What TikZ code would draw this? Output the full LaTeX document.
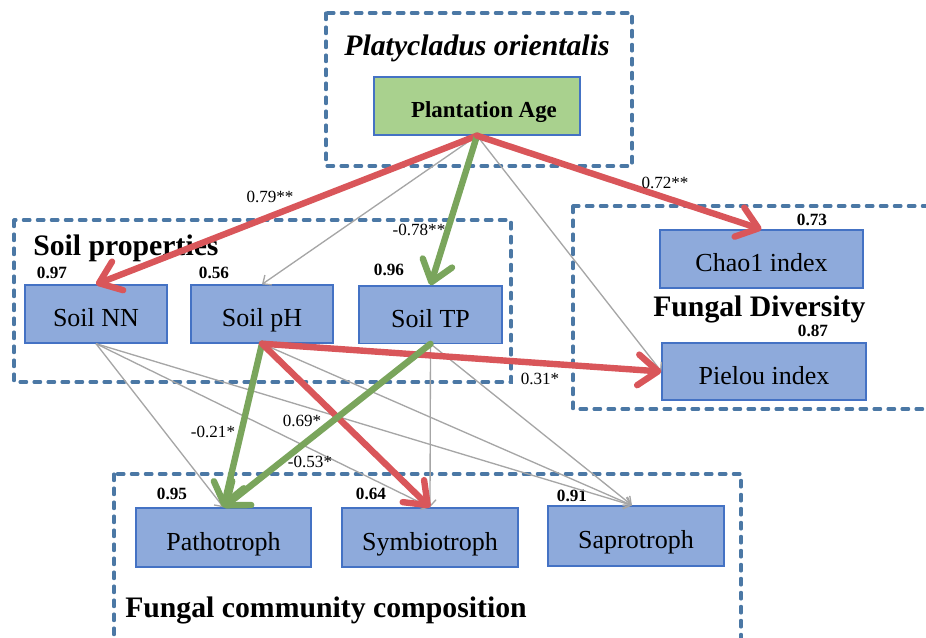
\documentclass[tikz,border=0pt]{standalone}
\usepackage{fontspec}
\setmainfont{Liberation Serif}
\usetikzlibrary{arrows.meta}
\definecolor{boxfill}{RGB}{142,170,219}
\definecolor{boxline}{RGB}{68,114,196}
\definecolor{agefill}{RGB}{169,209,142}
\definecolor{grpline}{RGB}{75,120,165}
\definecolor{redarr}{RGB}{217,86,90}
\definecolor{greenarr}{RGB}{122,165,92}
\definecolor{grayarr}{RGB}{166,166,166}
\begin{document}
\begin{tikzpicture}[x=0.75pt,y=-0.75pt,
  box/.style={draw=boxline, line width=1pt, fill=boxfill, inner sep=0pt,
    text height=19pt, text depth=0pt,
    font=\fontsize{19.5}{22}\selectfont},
  grp/.style={draw=grpline, line width=2.3pt, dash pattern=on 5pt off 5.5pt, line cap=round},
  heading/.style={font=\fontsize{22.3}{26}\selectfont\bfseries, inner sep=0pt},
  rsq/.style={font=\fontsize{12.9}{14}\selectfont\bfseries, inner sep=0pt},
  coef/.style={font=\fontsize{12.8}{14}\selectfont, inner sep=0pt},
  redarrow/.style={draw=redarr, line width=4.8pt, line cap=round,
    -{Straight Barb[length=15pt,width=23pt,line cap=round,line join=round]}},
  greenarrow/.style={draw=greenarr, line width=4.8pt, line cap=round,
    -{Straight Barb[length=15pt,width=23pt,line cap=round,line join=round]}},
  grayarrow/.style={draw=grayarr, line width=1pt,
    -{Straight Barb[length=5pt,width=9pt]}}
]
\useasboundingbox (0,0) rectangle (926,637);
\begin{scope}
\clip (0,0) rectangle (926,637);
% group frames
\draw[grp] (326,13) rectangle (632,166);
\draw[grp] (14,220) rectangle (511,382);
\draw[grp] (573,206) rectangle (940,409);
\draw[grp] (114,474) rectangle (741,650);
\end{scope}

% headings
\node[heading, font=\fontsize{22.3}{26}\selectfont\bfseries\itshape, anchor=base] (title) at (477,55) {Platycladus orientalis};
\node[heading, anchor=base west] (soilhead) at (33,255) {Soil properties};
\node[heading, anchor=base west] (divhead) at (653,316) {Fungal Diversity};
\node[heading, anchor=base west] (comphead) at (125,617) {Fungal community composition};

% boxes
\node[box, fill=agefill, minimum width=154.5pt, minimum height=43.5pt,
  text height=16.5pt, font=\fontsize{17.2}{20}\selectfont\bfseries] (age) at (477,106) {\hspace*{10.5pt}Plantation Age};
\node[box, minimum width=106.5pt, minimum height=43.5pt] (nn) at (96,314) {Soil NN};
\node[box, minimum width=106.5pt, minimum height=43.5pt] (ph) at (262,314) {Soil pH};
\node[box, minimum width=107.25pt, minimum height=43pt] (tp) at (430.5,314.5) {Soil TP};
\node[box, minimum width=152.25pt, minimum height=43.5pt] (chao) at (761.5,259) {Chao1 index};
\node[box, minimum width=153pt, minimum height=42.75pt] (pielou) at (764,371.5) {Pielou index};
\node[box, minimum width=131.25pt, minimum height=44.25pt] (patho) at (223.5,537.5) {Pathotroph};
\node[box, minimum width=132pt, minimum height=44.25pt] (symbio) at (430,537.5) {Symbiotroph};
\node[box, minimum width=132pt, minimum height=45pt] (sapro) at (636,536) {Saprotroph};

% R^2 values
\node[rsq] (r1) at (52,273) {0.97};
\node[rsq] (r2) at (214,273) {0.56};
\node[rsq] (r3) at (389,270) {0.96};
\node[rsq] (r4) at (812,220) {0.73};
\node[rsq] (r5) at (813,331) {0.87};
\node[rsq] (r6) at (172,494) {0.95};
\node[rsq] (r7) at (371,494) {0.64};
\node[rsq] (r8) at (572,496) {0.91};

% gray (non-significant) paths
\draw[grayarrow] (age.south) -- (ph.north);
\draw[grayarrow] (age.south) -- (pielou.west);
\draw[grayarrow] (nn.south) -- (patho.north);
\draw[grayarrow] (nn.south) -- (symbio.north);
\draw[grayarrow] (nn.south) -- ([xshift=-3pt]sapro.north);
\draw[grayarrow] (ph.south) -- ([xshift=-3pt]sapro.north);
\draw[grayarrow] (tp.south) -- (symbio.north);
\draw[grayarrow] (tp.south) -- ([xshift=-3pt]sapro.north);

% significant paths
\draw[redarrow] (age.south) -- (nn.north);
\draw[greenarrow] (age.south) -- (tp.north);
\draw[redarrow] (age.south) -- (chao.north);
\draw[redarrow] (ph.south) -- (pielou.west);
\draw[greenarrow] (ph.south) -- (patho.north);
\draw[redarrow] (ph.south) -- (symbio.north);
\draw[greenarrow] (tp.south) -- (patho.north);

% coefficients
\node[coef] (c1) at (270,197) {0.79**};
\node[coef] (c2) at (419,230) {-0.78**};
\node[coef] (c3) at (665,183) {0.72**};
\node[coef] (c4) at (540,379) {0.31*};
\node[coef] (c5) at (213,432) {-0.21*};
\node[coef] (c6) at (302,421) {0.69*};
\node[coef] (c7) at (310,462) {-0.53*};
\end{tikzpicture}
\end{document}
